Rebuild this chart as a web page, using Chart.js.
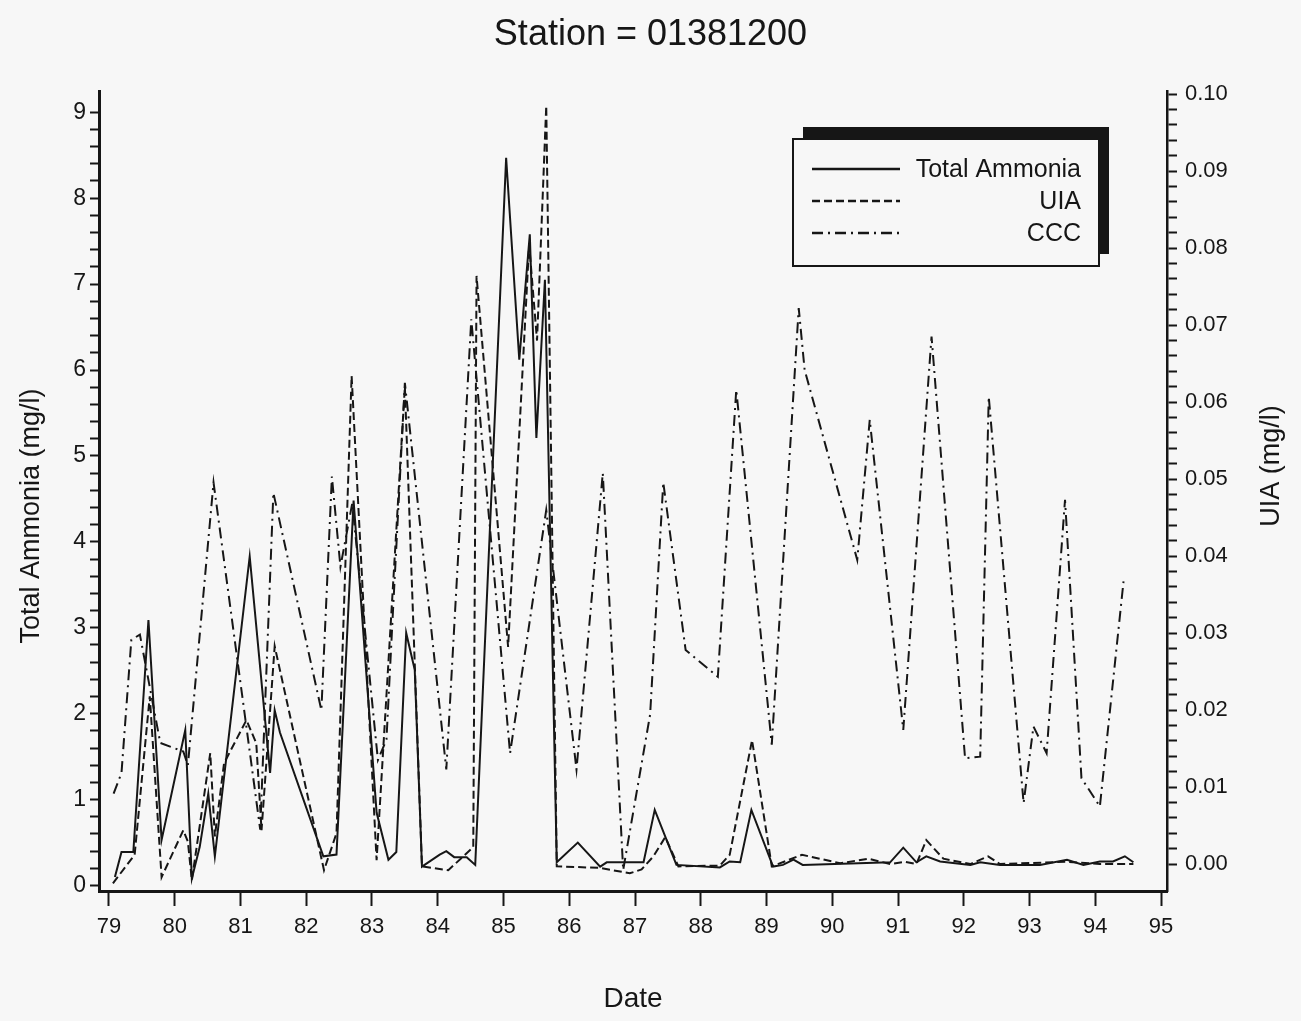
<!DOCTYPE html>
<html>
<head>
<meta charset="utf-8">
<title>Station = 01381200</title>
<script src="https://cdn.jsdelivr.net/npm/chart.js@4.4.1/dist/chart.umd.min.js"></script>
<style>
    html, body { margin: 0; padding: 0; background: #f7f7f7; }
    #wrap { width: 1301px; height: 1021px; }
</style>
</head>
<body>
<div id="wrap"><canvas id="stationChart" width="1301" height="1021"></canvas></div>
<script>
// Station 01381200 - ammonia, un-ionised ammonia and CCC, 1979-1995

// Total Ammonia (mg/l), left axis
const ammoniaDates = [79.09, 79.19, 79.37, 79.60, 79.80, 80.16, 80.26, 80.38, 80.51, 80.61,
    81.14, 81.45, 81.52, 81.60, 82.26, 82.46, 82.72, 83.07, 83.25, 83.37,
    83.52, 83.65, 83.76, 84.03, 84.13, 84.25, 84.44, 84.57, 85.04, 85.24,
    85.40, 85.50, 85.63, 85.81, 86.13, 86.47, 86.57, 87.13, 87.30, 87.63,
    88.29, 88.44, 88.60, 88.77, 89.10, 89.25, 89.41, 89.55, 90.88, 91.08,
    91.28, 91.43, 91.64, 92.10, 92.25, 92.55, 93.16, 93.57, 93.82, 94.07,
    94.27, 94.45, 94.58];
const ammoniaValues = [0.10, 0.39, 0.39, 3.09, 0.53, 1.81, 0.08, 0.45, 1.07, 0.34,
    3.83, 1.31, 2.04, 1.78, 0.34, 0.36, 4.48, 0.85, 0.30, 0.39,
    2.94, 2.51, 0.22, 0.36, 0.40, 0.33, 0.33, 0.24, 8.47, 6.12,
    7.58, 5.21, 7.05, 0.27, 0.50, 0.22, 0.27, 0.27, 0.88, 0.24,
    0.21, 0.28, 0.27, 0.88, 0.22, 0.24, 0.30, 0.24, 0.27, 0.44,
    0.27, 0.34, 0.28, 0.24, 0.27, 0.24, 0.24, 0.30, 0.24, 0.28,
    0.28, 0.34, 0.27];

// UIA (mg/l), right axis
const uiaDates = [79.06, 79.39, 79.62, 79.80, 80.13, 80.20, 80.26, 80.54, 80.61, 80.75,
    81.09, 81.24, 81.32, 81.52, 82.27, 82.46, 82.69, 83.07, 83.50, 83.76,
    84.16, 84.54, 84.59, 85.07, 85.39, 85.51, 85.65, 85.81, 86.47, 86.92,
    87.10, 87.28, 87.46, 87.66, 88.29, 88.44, 88.78, 89.08, 89.54, 90.12,
    90.55, 90.88, 91.10, 91.28, 91.43, 91.69, 92.10, 92.37, 92.55, 93.57,
    94.07, 94.58];
const uiaValues = [-0.0025, 0.0012, 0.0218, -0.0017, 0.0044, 0.0029, -0.0021, 0.0144, 0.0036, 0.0131,
    0.0187, 0.0157, 0.0044, 0.0283, -0.0008, 0.0040, 0.0634, 0.0005, 0.0620, -0.0003,
    -0.0008, 0.0022, 0.0764, 0.0282, 0.0805, 0.0680, 0.0985, -0.0003, -0.0005, -0.0012,
    -0.0007, 0.0010, 0.0035, -0.0003, -0.0002, 0.0012, 0.0161, -0.0003, 0.0012, 0.0001,
    0.0007, 0.0000, 0.0003, 0.0000, 0.0031, 0.0007, 0.0000, 0.0010, 0.0000, 0.0003,
    0.0000, 0.0000];

// CCC (mg/l total ammonia), left axis
const cccDates = [79.07, 79.19, 79.34, 79.47, 79.78, 80.13, 80.20, 80.59, 81.30, 81.50,
    82.23, 82.39, 82.52, 82.70, 83.09, 83.22, 83.32, 83.50, 84.13, 84.51,
    85.10, 85.65, 86.11, 86.51, 86.82, 87.23, 87.43, 87.77, 88.26, 88.54,
    89.08, 89.49, 89.58, 90.38, 90.57, 91.08, 91.51, 92.02, 92.25, 92.38,
    92.91, 93.06, 93.26, 93.54, 93.79, 94.07, 94.43];
const cccValues = [1.07, 1.31, 2.86, 2.92, 1.66, 1.56, 1.40, 4.69, 0.65, 4.57,
    2.04, 4.76, 3.71, 4.45, 1.46, 1.70, 3.21, 5.85, 1.35, 6.59,
    1.54, 4.37, 1.35, 4.80, 0.18, 1.99, 4.69, 2.74, 2.43, 5.77,
    1.64, 6.72, 6.00, 3.79, 5.42, 1.81, 6.39, 1.48, 1.50, 5.69,
    0.96, 1.85, 1.54, 4.49, 1.25, 0.92, 3.54];

// Tick labels
const yearTicks = [79, 80, 81, 82, 83, 84, 85, 86, 87, 88, 89, 90, 91, 92, 93, 94, 95];
const ammoniaTicks = [0, 1, 2, 3, 4, 5, 6, 7, 8, 9];
const uiaTicks = [0.00, 0.01, 0.02, 0.03, 0.04, 0.05, 0.06, 0.07, 0.08, 0.09, 0.10];

const seriesNames = ['Total Ammonia', 'UIA', 'CCC'];

const INK = '#161616';
const FONT = "'Liberation Sans', Arial, Helvetica, sans-serif";

function toPoints(xs, ys) {
    return xs.map((x, i) => ({ x: x, y: ys[i] }));
}

// major ticks plus 4 minor ticks between each pair
function withMinorTicks(majors) {
    const out = [];
    for (let i = 0; i < majors.length; i++) {
        out.push({ value: majors[i], major: true });
        if (i < majors.length - 1) {
            const step = (majors[i + 1] - majors[i]) / 5;
            for (let k = 1; k < 5; k++) {
                out.push({ value: majors[i] + step * k, major: false });
            }
        }
    }
    return out;
}

// legend box with the black shadow at top / right
const boxLegend = {
    id: 'boxLegend',
    afterDraw(chart) {
        const ctx = chart.ctx;
        const x = 793, y = 139, w = 306, h = 127;
        ctx.save();
        ctx.fillStyle = INK;
        ctx.fillRect(x + 10, y - 12, w, h);
        ctx.fillStyle = '#f7f7f7';
        ctx.fillRect(x, y, w, h);
        ctx.strokeStyle = INK;
        ctx.lineWidth = 2;
        ctx.strokeRect(x, y, w, h);

        ctx.font = '25px ' + FONT;
        ctx.textAlign = 'right';
        ctx.textBaseline = 'middle';
        chart.data.datasets.forEach((ds, i) => {
            const ly = 169 + i * 32;
            ctx.beginPath();
            ctx.setLineDash(ds.borderDash || []);
            ctx.lineWidth = 2.5;
            ctx.strokeStyle = ds.borderColor;
            ctx.moveTo(812, ly);
            ctx.lineTo(900, ly);
            ctx.stroke();
            ctx.setLineDash([]);
            ctx.fillStyle = INK;
            ctx.fillText(ds.label, 1081, ly + 1);
        });
        ctx.restore();
    }
};

// both vertical axis titles read bottom to top
const sideTitles = {
    id: 'sideTitles',
    afterDraw(chart) {
        const ctx = chart.ctx;
        ctx.save();
        ctx.fillStyle = INK;
        ctx.font = '27px ' + FONT;
        ctx.textAlign = 'center';
        ctx.textBaseline = 'middle';
        [['Total Ammonia (mg/l)', 32, 516], ['UIA (mg/l)', 1272, 466]].forEach(t => {
            ctx.save();
            ctx.translate(t[1], t[2]);
            ctx.rotate(-Math.PI / 2);
            ctx.fillText(t[0], 0, 0);
            ctx.restore();
        });
        ctx.restore();
    }
};

function createStationChart() {
    const canvas = document.getElementById('stationChart');
    const ctx = canvas.getContext('2d');

    Chart.defaults.font.family = FONT;
    Chart.defaults.color = INK;

    return new Chart(ctx, {
        type: 'line',
        data: {
            datasets: [{
                label: seriesNames[0],
                data: toPoints(ammoniaDates, ammoniaValues),
                yAxisID: 'y',
                borderColor: INK,
                borderWidth: 2,
                pointRadius: 0,
                tension: 0
            }, {
                label: seriesNames[1],
                data: toPoints(uiaDates, uiaValues),
                yAxisID: 'y1',
                borderColor: INK,
                borderWidth: 2,
                borderDash: [8, 4],
                pointRadius: 0,
                tension: 0
            }, {
                label: seriesNames[2],
                data: toPoints(cccDates, cccValues),
                yAxisID: 'y',
                borderColor: INK,
                borderWidth: 2,
                borderDash: [11, 5, 2, 5],
                pointRadius: 0,
                tension: 0
            }]
        },
        options: {
            responsive: false,
            animation: false,
            layout: { padding: 0 },
            plugins: {
                legend: { display: false },
                tooltip: { enabled: false },
                title: {
                    display: true,
                    text: 'Station = 01381200',
                    color: INK,
                    font: { size: 36, weight: 'normal' },
                    padding: { top: 13, bottom: 35 }
                }
            },
            scales: {
                x: {
                    type: 'linear',
                    position: 'bottom',
                    min: 78.848,
                    max: 95.091,
                    afterBuildTicks: s => { s.ticks = yearTicks.map(v => ({ value: v })); },
                    afterFit: s => { s.height = 130; },
                    ticks: {
                        autoSkip: false,
                        maxRotation: 0,
                        padding: 8,
                        font: { size: 22 },
                        callback: v => String(v)
                    },
                    grid: { drawOnChartArea: false, tickLength: 15, tickWidth: 2, tickColor: INK },
                    border: { display: true, color: INK, width: 3 },
                    title: {
                        display: true,
                        text: 'Date',
                        font: { size: 28 },
                        padding: { top: 0, bottom: 5 }
                    }
                },
                y: {
                    type: 'linear',
                    position: 'left',
                    min: -0.064,
                    max: 9.245,
                    afterBuildTicks: s => { s.ticks = withMinorTicks(ammoniaTicks); },
                    afterFit: s => { s.width = 99; },
                    ticks: {
                        autoSkip: false,
                        padding: 4,
                        font: { size: 23 },
                        callback: (v, i, ticks) => ticks[i].major ? String(v) : ''
                    },
                    grid: { drawOnChartArea: false, tickLength: 9, tickWidth: 2, tickColor: INK },
                    border: { display: true, color: INK, width: 3 }
                },
                y1: {
                    type: 'linear',
                    position: 'right',
                    min: -0.0035,
                    max: 0.10039,
                    afterBuildTicks: s => { s.ticks = withMinorTicks(uiaTicks); },
                    afterFit: s => { s.width = 134; },
                    ticks: {
                        autoSkip: false,
                        padding: 8,
                        font: { size: 22 },
                        callback: (v, i, ticks) => ticks[i].major ? v.toFixed(2) : ''
                    },
                    grid: { drawOnChartArea: false, tickLength: 10, tickWidth: 2, tickColor: INK },
                    border: { display: true, color: INK, width: 2.5 }
                }
            }
        },
        plugins: [boxLegend, sideTitles]
    });
}

window.stationChart = createStationChart();
</script>
</body>
</html>
